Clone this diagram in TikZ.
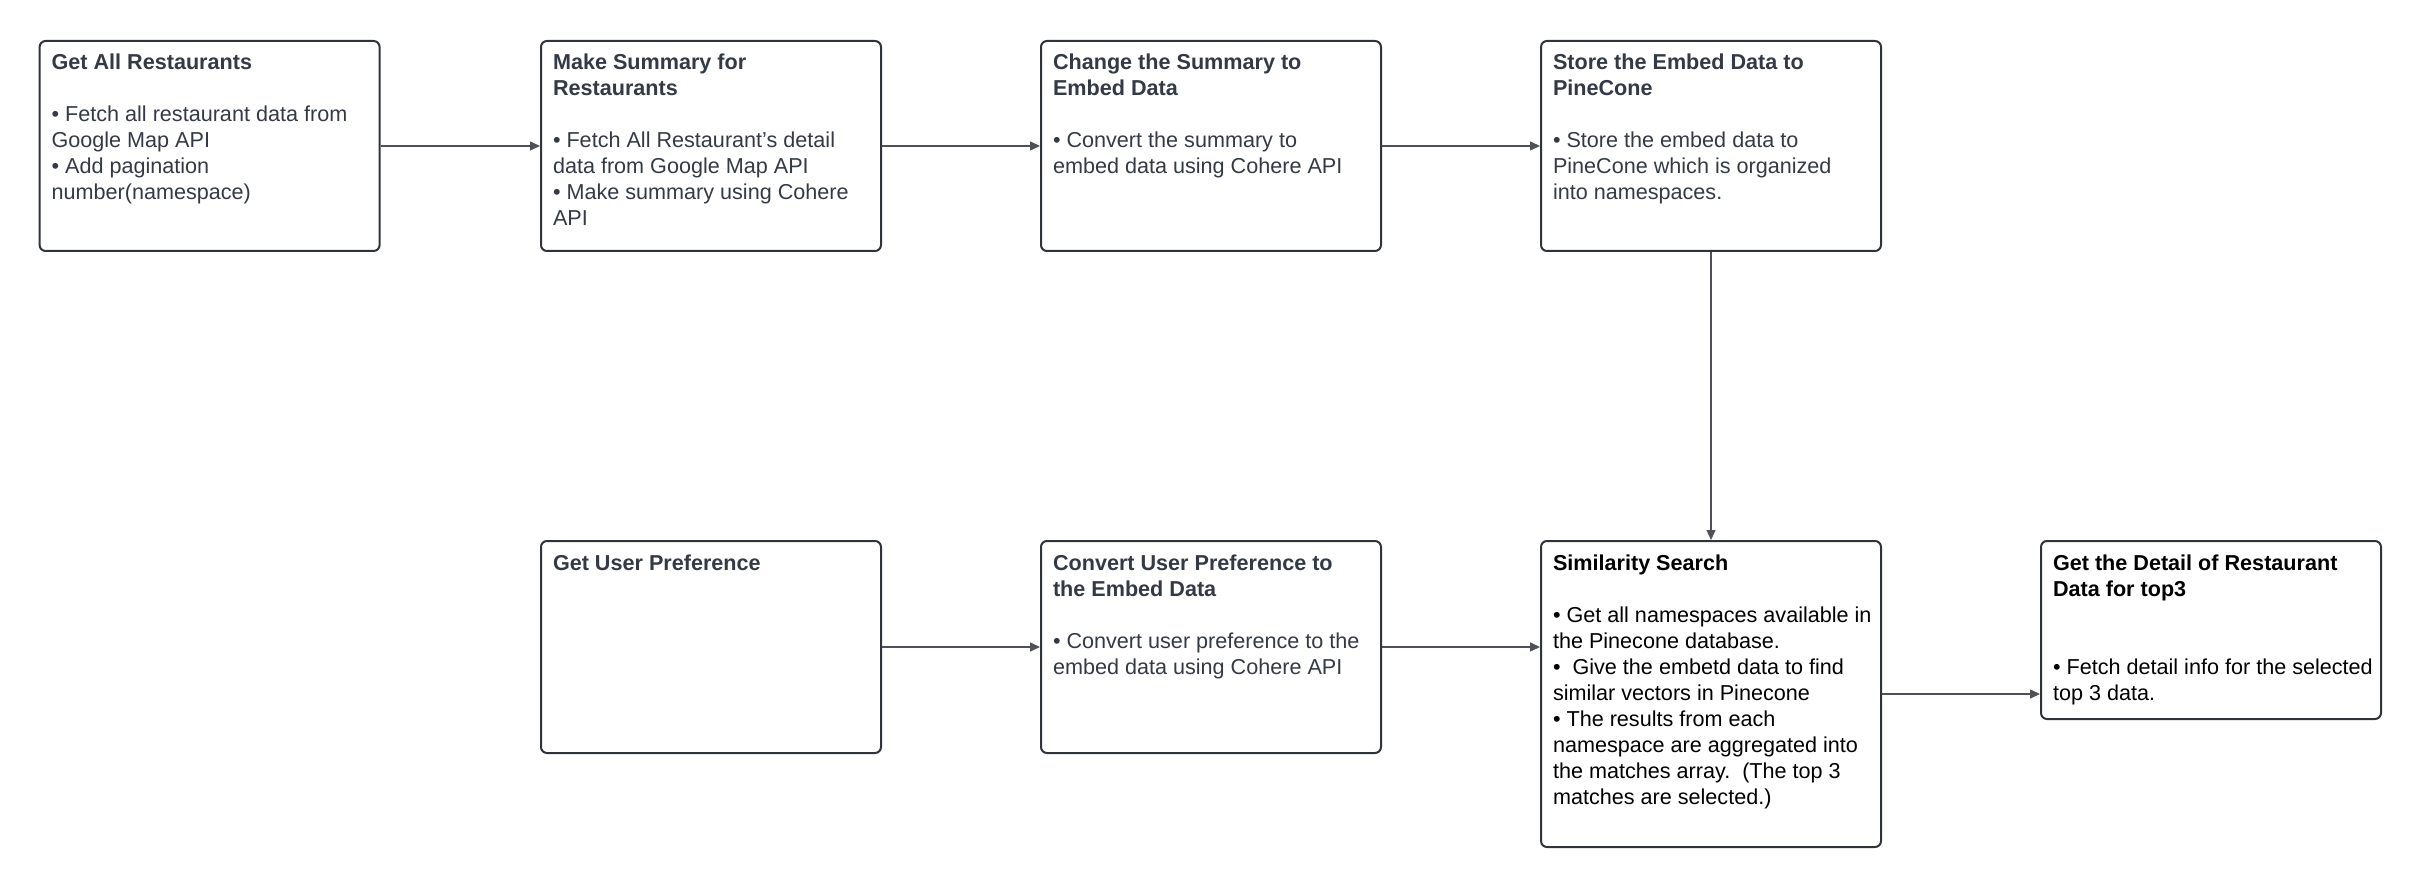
\documentclass[tikz,border=0pt]{standalone}
\usepackage{fontspec}
\setmainfont{Liberation Sans}
\usetikzlibrary{arrows.meta}
\definecolor{lineGray}{HTML}{2F343B}
\definecolor{textGray}{HTML}{333A45}
\newcommand{\boxText}[2]{\makebox[158pt][l]{\parbox[c][#1][t]{166pt}{\raggedright\rule{0pt}{8.5pt}#2}}}
\tikzset{
  flowBox/.style={draw=lineGray, line width=1pt, rounded corners=3pt, anchor=north west, inner sep=6pt, font=\fontsize{10.8pt}{13pt}\selectfont, text=textGray},
  flowArrow/.style={draw=lineGray!85, line width=0.7pt, -{Triangle[length=5pt,width=4.5pt]}}
}
\begin{document}
\begin{tikzpicture}
\useasboundingbox (0,0) rectangle (1210pt,-443.5pt);
	% top row
	\node[flowBox](getAllBox) at (19.3pt,-20pt){\boxText{93pt}{\textbf{Get All Restaurants}\\[13pt]
		• Fetch all restaurant data from\\ Google Map API\\ • Add pagination\\ number(namespace)}};
	\node[flowBox](summaryBox) at (270pt,-20pt){\boxText{93pt}{\textbf{Make Summary for}\\ \textbf{Restaurants}\\[13pt]
		• Fetch All Restaurant\symbol{"27}s detail\\ data from Google Map API\\ • Make summary using Cohere\\ API}};
	\node[flowBox](embedBox) at (520pt,-20pt){\boxText{93pt}{\textbf{Change the Summary to}\\ \textbf{Embed Data}\\[13pt]
		• Convert the summary to\\ embed data using Cohere API}};
	\node[flowBox](storeBox) at (770pt,-20pt){\boxText{93pt}{\textbf{Store the Embed Data to}\\ \textbf{PineCone}\\[13pt]
		• Store the embed data to\\ PineCone which is organized\\ into namespaces.}};

	% bottom row
	\node[flowBox](userPrefBox) at (270pt,-270pt){\boxText{94pt}{\textbf{Get User Preference}}};
	\node[flowBox](convertPrefBox) at (520pt,-270pt){\boxText{94pt}{\textbf{Convert User Preference to}\\ \textbf{the Embed Data}\\[13pt]
		• Convert user preference to the\\ embed data using Cohere API}};
	\node[flowBox, text=black](simSearchBox) at (770pt,-270pt){\boxText{141pt}{\textbf{Similarity Search}\\[13pt]
		• Get all namespaces available in\\ the Pinecone database.\\ •\ \ Give the embetd data to find\\ similar vectors in Pinecone\\
		• The results from each\\ namespace are aggregated into\\ the matches array.\ \ (The top 3\\ matches are selected.)}};
	\node[flowBox, text=black](topDetailBox) at (1020pt,-270pt){\boxText{77pt}{\textbf{Get the Detail of Restaurant}\\ \textbf{Data for top3}\\[26pt]
		• Fetch detail info for the selected\\ top 3 data.}};

	\draw[flowArrow] (getAllBox) -- (summaryBox);
	\draw[flowArrow] (summaryBox) -- (embedBox);
	\draw[flowArrow] (embedBox) -- (storeBox);
	\draw[flowArrow] (storeBox) -- (simSearchBox);
	\draw[flowArrow] (userPrefBox) -- (convertPrefBox);
	\draw[flowArrow] (convertPrefBox.east) -- (convertPrefBox.east -| simSearchBox.west);
	\draw[flowArrow] (simSearchBox.east) -- (simSearchBox.east -| topDetailBox.west);
\end{tikzpicture}
\end{document}
